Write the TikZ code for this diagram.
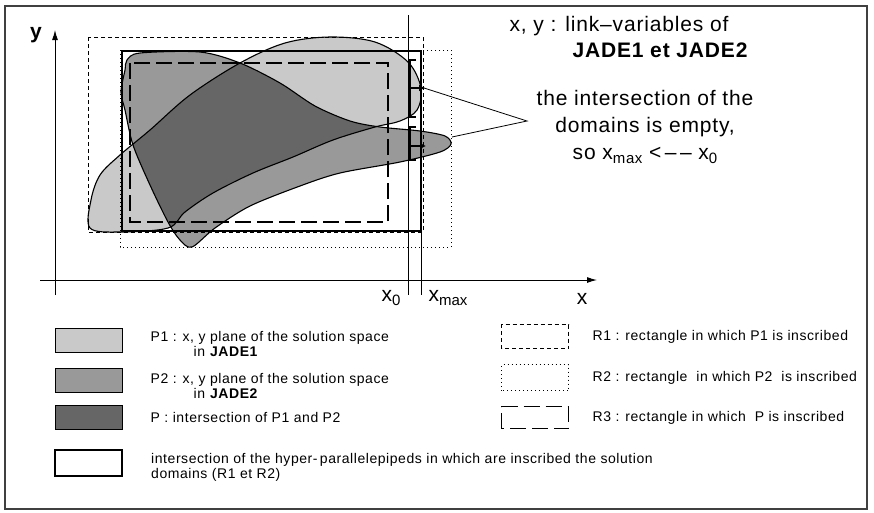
\documentclass[tikz,border=0pt]{standalone}
\usepackage{fontspec}
\setmainfont{Liberation Sans}
\newfontfamily\widefont[LetterSpace=4]{Liberation Sans}
\usetikzlibrary{arrows.meta, positioning}
\definecolor{lightDots}{gray}{0.79}
\definecolor{midDots}{gray}{0.60}
\definecolor{darkDots}{gray}{0.40}
\newcommand{\lowsub}[1]{\raisebox{-0.22em}{\fontsize{15}{15}\selectfont #1}}

% outlines of the two solution domains
\def\pathPone{plot[smooth cycle, tension=0.55] coordinates {(90,228) (91,200) (100,175) (120,155) (150,130) (190,95) (240,63) (285,43) (330,37) (375,42) (408,62) (421,88) (417,110) (400,121) (375,127) (333,140) (293,157) (253,173) (213,193) (185,212) (168,228) (120,232)}}
\def\pathPtwo{plot[smooth cycle, tension=0.5] coordinates {(127,60) (140,53) (200,52) (240,63) (280,83) (315,106) (350,121) (380,127) (420,131) (445,136) (451,144) (440,152) (400,162) (340,173) (300,186) (250,206) (215,228) (192,247) (180,240) (168,222) (150,185) (133,145) (125,110) (121,92) (125,70)}}

\begin{document}
\begin{tikzpicture}[x=1pt, y=-1pt,
    axis/.style={-{Latex[length=10pt,width=6pt]}, line width=1pt},
    guide/.style={line width=0.8pt},
    outline/.style={line width=1.1pt},
    rOne/.style={line width=1pt, dash pattern=on 4pt off 3pt},
    rTwo/.style={line width=1pt, dash pattern=on 1pt off 3pt},
    rThree/.style={line width=1.1pt, dash pattern=on 16pt off 6pt},
    hyper/.style={line width=1.4pt},
    bigtxt/.style={font=\widefont\fontsize{21}{27}\selectfont},
    axtxt/.style={font=\fontsize{21}{22}\selectfont},
    legtxt/.style={font=\widefont\fontsize{14}{15}\selectfont, anchor=west, align=left, inner sep=0pt},
    swatch/.style={draw, line width=1pt, minimum width=67pt, minimum height=24pt, inner sep=0pt},
  ]
  \useasboundingbox (0,0) rectangle (874,512);
  % frame
  \draw[line width=1.5pt, black!75] (5,6) rectangle (867,509);

  % domains P1, P2 and their intersection P
  \fill[lightDots] \pathPone;
  \fill[midDots] \pathPtwo;
  \begin{scope}
    \clip \pathPone;
    \fill[darkDots] \pathPtwo;
  \end{scope}
  \draw[outline] \pathPone;
  \draw[outline] \pathPtwo;

  % rectangles R1, R2, R3 and the hyper-parallelepiped
  \draw[rOne] (88,37) rectangle (423,232);
  \draw[rTwo] (120,50) rectangle (451,247);
  \draw[rThree] (130,63) rectangle (388,222);
  \draw[hyper] (122,51) rectangle (421,231);

  % axes
  \coordinate (yfoot) at (55,295);
  \coordinate (ytip) at (55,30);
  \coordinate (xfoot) at (40,280);
  \coordinate (xtip) at (597,280);
  \draw[axis] (yfoot) -- (ytip);
  \draw[axis] (xfoot) -- (xtip);
  \node[font=\fontsize{21}{22}\selectfont\bfseries] (ylab) at (36,35) {y};
  \node[axtxt] (xlab) at (582,299) {x};

  % x0 and xmax
  \draw[guide] (408,15) -- (408,295);
  \draw[guide] (421,51) -- (421,295);
  \node[axtxt] (xzero) at (391,298) {x\lowsub{0}};
  \node[axtxt] (xmaxlab) at (448,298) {x\lowsub{max}};

  % extents at x0
  \draw[line width=1.6pt] (416,60) -- (410,60) -- (410,117) -- (416,117);
  \draw[line width=1.6pt] (416,127) -- (410,127) -- (410,160) -- (416,160);
  \draw[-{Latex[length=6pt,width=7pt]}, line width=1.2pt] (410,88) -- (425,88);
  \draw[-{Latex[length=6pt,width=7pt]}, line width=1.2pt] (410,146) -- (426,146);

  % comments on the right
  \node[bigtxt, anchor=west] (links) at (506,26) {x, y : link\textendash variables of};
  \node[anchor=west, font=\widefont\fontsize{21}{27}\selectfont\bfseries] (jades) at (569,50) {JADE1 et JADE2};
  \node[bigtxt, align=center] (empty) at (645,127) {the intersection of the\\domains is empty,\\so x\lowsub{max} {<}\,\textendash\,\textendash\ x\lowsub{0}};

  % callout
  \coordinate (mOne) at (424,88);
  \coordinate (mTwo) at (452,137);
  \coordinate (tip) at (527,121);
  \draw[guide] (mOne) -- (tip) -- (mTwo);

  % legend, left
  \node[swatch, fill=lightDots] (swOne) at (88.5,340) {};
  \node[swatch, fill=midDots] (swTwo) at (88.5,380.5) {};
  \node[swatch, fill=darkDots] (swThree) at (88.5,417.5) {};
  \node[swatch, line width=2pt, fill=white, minimum height=26pt] (swFour) at (88.5,463) {};
  \node[legtxt, right=28pt of swOne, yshift=-4pt] (txOne) {P1 : x, y plane of the solution space\\\hspace*{43pt}in \textbf{JADE1}};
  \node[legtxt, right=28pt of swTwo, yshift=-5pt] (txTwo) {P2 : x, y plane of the solution space\\\hspace*{43pt}in \textbf{JADE2}};
  \node[legtxt, right=28pt of swThree] (txThree) {P : intersection of P1 and P2};
  \node[legtxt, right=28pt of swFour, yshift=-4pt] (txFour) {intersection of the hyper-\,parallelepipeds in which are inscribed the solution\\domains (R1 et R2)};

  % legend, right
  \node[swatch, draw=none, minimum width=66pt, minimum height=23pt] (swR1) at (535,336.5) {};
  \draw[rOne] (swR1.south west) rectangle (swR1.north east);
  \node[swatch, draw=none, minimum width=66pt, minimum height=25pt] (swR2) at (535,377.5) {};
  \draw[rTwo] (swR2.south west) rectangle (swR2.north east);
  \node[swatch, draw=none, minimum width=66pt, minimum height=21pt] (swR3) at (535,417.5) {};
  \draw[rThree] (swR3.south west) rectangle (swR3.north east);
  \node[legtxt, right=24pt of swR1] (txR1) {R1 : rectangle in which P1 is inscribed};
  \node[legtxt, right=24pt of swR2] (txR2) {R2 : rectangle \ in which P2 \ is inscribed};
  \node[legtxt, right=24pt of swR3] (txR3) {R3 : rectangle in which \ P is inscribed};
\end{tikzpicture}
\end{document}
